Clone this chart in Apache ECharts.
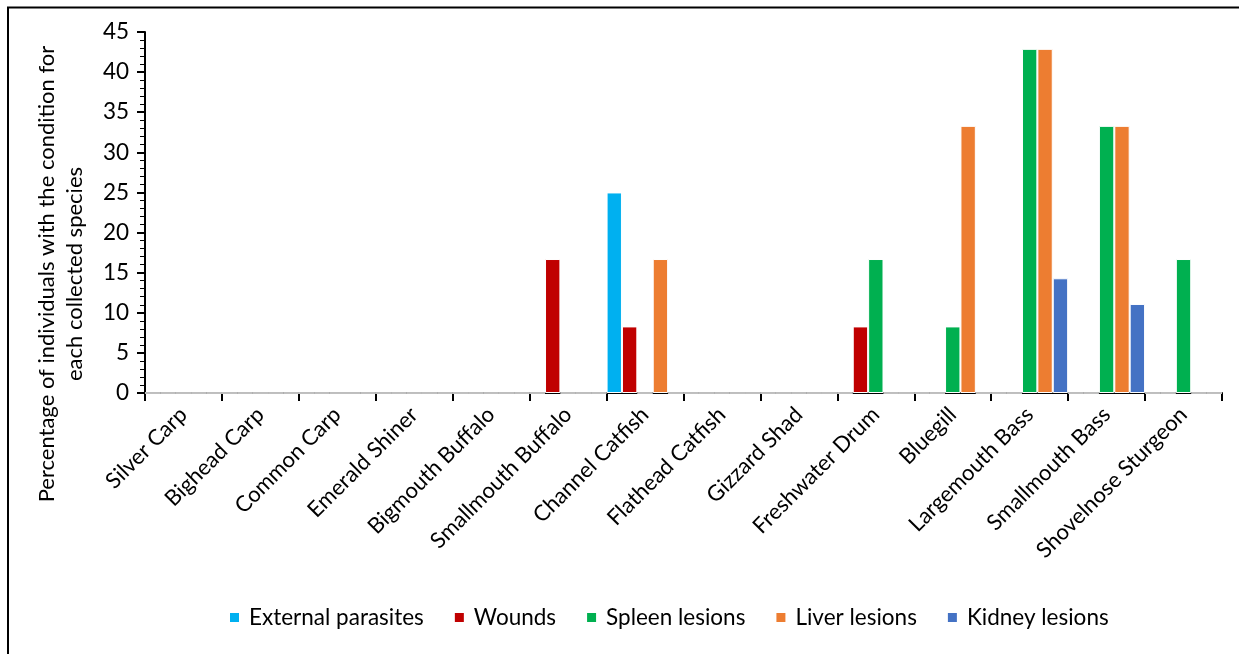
<!DOCTYPE html>
<html>
<head>
<meta charset="utf-8">
<script src="https://cdn.jsdelivr.net/npm/echarts@6/dist/echarts.min.js"></script>
<style>
  html, body { margin: 0; padding: 0; background: #fff; }
  #chart { width: 1239px; height: 654px; }
</style>
</head>
<body>
<div id="chart"></div>
<script>
// Fish species collected
const species = [
  'Silver Carp', 'Bighead Carp', 'Common Carp', 'Emerald Shiner', 'Bigmouth Buffalo',
  'Smallmouth Buffalo', 'Channel Catfish', 'Flathead Catfish', 'Gizzard Shad',
  'Freshwater Drum', 'Bluegill', 'Largemouth Bass', 'Smallmouth Bass', 'Shovelnose Sturgeon'
];

// Percentage of individuals with each condition, per species
const externalParasites = [0, 0, 0, 0, 0, 0, 25.0, 0, 0, 0, 0, 0, 0, 0];
const wounds            = [0, 0, 0, 0, 0, 16.7, 8.3, 0, 0, 8.3, 0, 0, 0, 0];
const spleenLesions     = [0, 0, 0, 0, 0, 0, 0, 0, 0, 16.7, 8.3, 42.9, 33.3, 16.7];
const liverLesions      = [0, 0, 0, 0, 0, 0, 16.7, 0, 0, 0, 33.3, 42.9, 33.3, 0];
const kidneyLesions     = [0, 0, 0, 0, 0, 0, 0, 0, 0, 0, 0, 14.3, 11.1, 0];

const seriesNames = ['External parasites', 'Wounds', 'Spleen lesions', 'Liver lesions', 'Kidney lesions'];
const seriesData = [externalParasites, wounds, spleenLesions, liverLesions, kidneyLesions];
const seriesColors = ['#00B0F0', '#C00000', '#00B050', '#ED7D31', '#4472C4'];

const yTicks = { min: 0, max: 45, step: 5 };
const FONT = 'Lato';

const chart = echarts.init(document.getElementById('chart'), null, { renderer: 'canvas' });

chart.setOption({
  animation: false,
  backgroundColor: '#fff',
  textStyle: { fontFamily: FONT, color: '#000' },
  grid: { left: 145, right: 17, top: 32, bottom: 261, containLabel: false },
  legend: {
    left: 228,
    top: 606,
    padding: 0,
    icon: 'rect',
    itemWidth: 11,
    itemHeight: 11,
    itemGap: 29,
    textStyle: { fontFamily: FONT, fontSize: 22.5, color: '#000', padding: [0, 0, 0, 4] },
    data: seriesNames
  },
  xAxis: {
    type: 'category',
    data: species,
    axisLine: { lineStyle: { color: '#000', width: 2 } },
    axisTick: { show: true, length: 8, lineStyle: { color: '#000', width: 2 } },
    axisLabel: {
      rotate: 45,
      interval: 0,
      margin: 18,
      fontFamily: FONT,
      fontSize: 22,
      color: '#000'
    },
    splitLine: { show: false }
  },
  yAxis: {
    type: 'value',
    min: yTicks.min,
    max: yTicks.max,
    interval: yTicks.step,
    axisLine: { show: true, lineStyle: { color: '#000', width: 2 } },
    axisTick: { show: true, length: 8, lineStyle: { color: '#000', width: 2 } },
    minorTick: { show: true, splitNumber: 5, length: 5, lineStyle: { color: '#000', width: 1 } },
    axisLabel: { fontFamily: FONT, fontSize: 22.5, color: '#000', margin: 16 },
    splitLine: { show: false }
  },
  series: seriesNames.map((name, i) => ({
    name: name,
    type: 'bar',
    data: seriesData[i],
    barGap: '0%',
    barCategoryGap: '0%',
    itemStyle: { color: seriesColors[i], borderColor: '#fff', borderWidth: 1 }
  })),
  graphic: [
    {
      type: 'rect',
      shape: { x: 8, y: 7.5, width: 1260, height: 680 },
      style: { fill: 'none', stroke: '#000', lineWidth: 2 },
      silent: true,
      z: 100
    },
    {
      type: 'text',
      x: 33,
      y: 274,
      rotation: Math.PI / 2,
      style: {
        text: 'Percentage of individuals with the condition for\neach collected species',
        fontFamily: FONT,
        fontSize: 22,
        lineHeight: 28,
        fill: '#000',
        align: 'center',
        verticalAlign: 'top'
      }
    }
  ]
});
</script>
</body>
</html>
